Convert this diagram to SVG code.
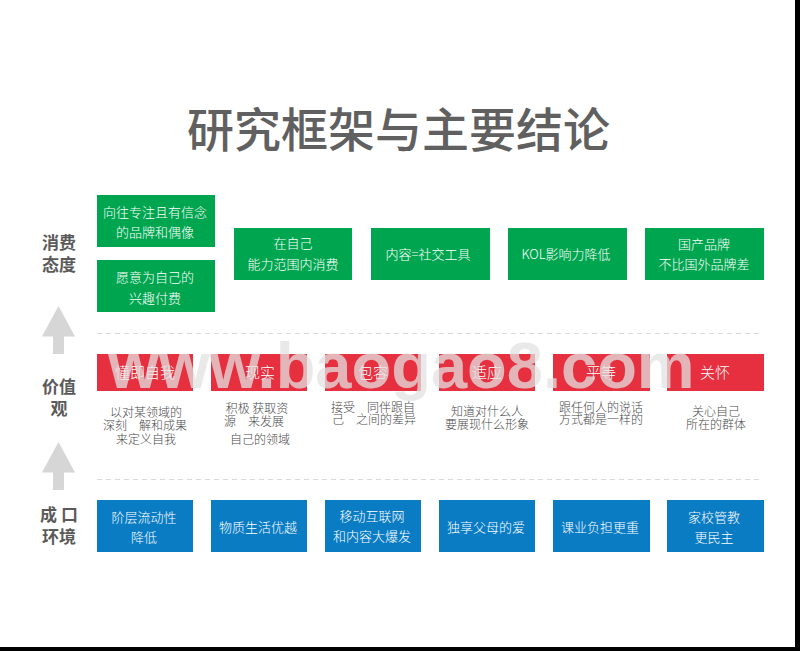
<svg xmlns="http://www.w3.org/2000/svg" width="800" height="651" viewBox="0 0 800 651">
<style>
text{font-family:"Noto Sans CJK SC","Liberation Sans",sans-serif;text-anchor:middle}
.t{font-size:13px;fill:#fff;font-weight:300}
.h{font-size:15px;fill:#fff;font-weight:300}
.d{font-size:12px;fill:#4a4a4a;font-weight:300}
.s{font-size:17px;font-weight:700;fill:#5a5a5a}
.g{fill:#00a64f}.r{fill:#e6303f}.b{fill:#0a7cc4}
.a{fill:#d6d6d6}
.l{stroke:#d9d9d9;stroke-width:1;stroke-dasharray:5 4;fill:none}
</style>
<rect width="800" height="651" fill="#fff"/>
<rect x="795" width="5" height="651" fill="#000"/>
<rect y="647" width="800" height="4" fill="#000"/>
<text id="title" x="398.500" y="147" font-size="47" font-weight="500" fill="#606060">研究框架与主要结论</text>
<g id="side-labels">
<g id="label-attitude"><text class="s" x="59" y="249">消费</text><text class="s" x="59" y="271">态度</text></g>
<g id="label-values"><text class="s" x="59" y="393">价值</text><text class="s" x="59" y="415">观</text></g>
<g id="label-env"><text class="s" x="59" y="521">成 口</text><text class="s" x="59" y="543">环境</text></g>
</g>
<g id="connectors">
<path class="a" d="M58.500 306L75 336.500H64V354H53V336.500H42Z"/>
<path class="a" d="M58.500 442L75 472.500H64V490H53V472.500H42Z"/>
<path class="l" d="M97 333.500H762"/>
<path class="l" d="M97 479.500H762"/>
</g>
<g id="g1"><rect class="g" x="97" y="195" width="118" height="52"/><text class="t" x="155" y="217">向往专注且有信念</text><text class="t" x="155" y="237">的品牌和偶像</text></g>
<g id="g2"><rect class="g" x="97" y="260" width="118" height="52"/><text class="t" x="155" y="282">愿意为自己的</text><text class="t" x="155" y="303">兴趣付费</text></g>
<g id="g3"><rect class="g" x="234" y="228" width="118" height="52"/><text class="t" x="293" y="248">在自己</text><text class="t" x="293" y="269">能力范围内消费</text></g>
<g id="g4"><rect class="g" x="371" y="228" width="119" height="52"/><text class="t" x="428" y="259">内容=社交工具</text></g>
<g id="g5"><rect class="g" x="508" y="228" width="119" height="52"/><text class="t" x="566" y="259">KOL影响力降低</text></g>
<g id="g6"><rect class="g" x="645" y="228" width="119" height="52"/><text class="t" x="704" y="249">国产品牌</text><text class="t" x="704" y="269">不比国外品牌差</text></g>
<g id="r1"><rect class="r" x="97" y="354" width="96" height="37"/><text class="h" x="145" y="378">懂即自我</text>
<text class="d" x="146" y="417">以对某领域的</text><text class="d" x="145" y="430">深刻　解和成果</text><text class="d" x="146" y="444">来定义自我</text></g>
<g id="r2"><rect class="r" x="211" y="354" width="96" height="37"/><text class="h" x="260" y="378">现实</text>
<text class="d" x="257" y="413">积极 获取资</text><text class="d" x="254" y="426">源　来发展</text><text class="d" x="260" y="444">自己的领域</text></g>
<g id="r3"><rect class="r" x="325" y="354" width="96" height="37"/><text class="h" x="373" y="378">包容</text>
<text class="d" x="373" y="412">接受　同伴跟自</text><text class="d" x="374" y="424">己　之间的差异</text></g>
<g id="r4"><rect class="r" x="439" y="354" width="96" height="37"/><text class="h" x="487" y="378">适应</text>
<text class="d" x="487" y="416">知道对什么人</text><text class="d" x="487" y="429">要展现什么形象</text></g>
<g id="r5"><rect class="r" x="553" y="354" width="97" height="37"/><text class="h" x="601" y="378">平等</text>
<text class="d" x="601" y="412">跟任何人的说话</text><text class="d" x="601" y="424">方式都是一样的</text></g>
<g id="r6"><rect class="r" x="667" y="354" width="97" height="37"/><text class="h" x="715" y="378">关怀</text>
<text class="d" x="716" y="416">关心自己</text><text class="d" x="716" y="429">所在的群体</text></g>
<g id="b1"><rect class="b" x="97" y="500" width="96" height="52"/><text class="t" x="144" y="522">阶层流动性</text><text class="t" x="144" y="542">降低</text></g>
<g id="b2"><rect class="b" x="211" y="500" width="96" height="52"/><text class="t" x="258" y="532">物质生活优越</text></g>
<g id="b3"><rect class="b" x="325" y="500" width="96" height="52"/><text class="t" x="372" y="521">移动互联网</text><text class="t" x="372" y="541">和内容大爆发</text></g>
<g id="b4"><rect class="b" x="439" y="500" width="96" height="52"/><text class="t" x="486" y="532">独享父母的爱</text></g>
<g id="b5"><rect class="b" x="553" y="500" width="97" height="52"/><text class="t" x="600" y="532">课业负担更重</text></g>
<g id="b6"><rect class="b" x="667" y="500" width="97" height="52"/><text class="t" x="714" y="522">家校管教</text><text class="t" x="714" y="542">更民主</text></g>
<text id="watermark" x="401.500" y="388" font-weight="700" fill="#e2e2e2" fill-opacity="0.75" style="font-family:'Liberation Sans',sans-serif;font-size:65px">www.baogao8.com</text>
</svg>
